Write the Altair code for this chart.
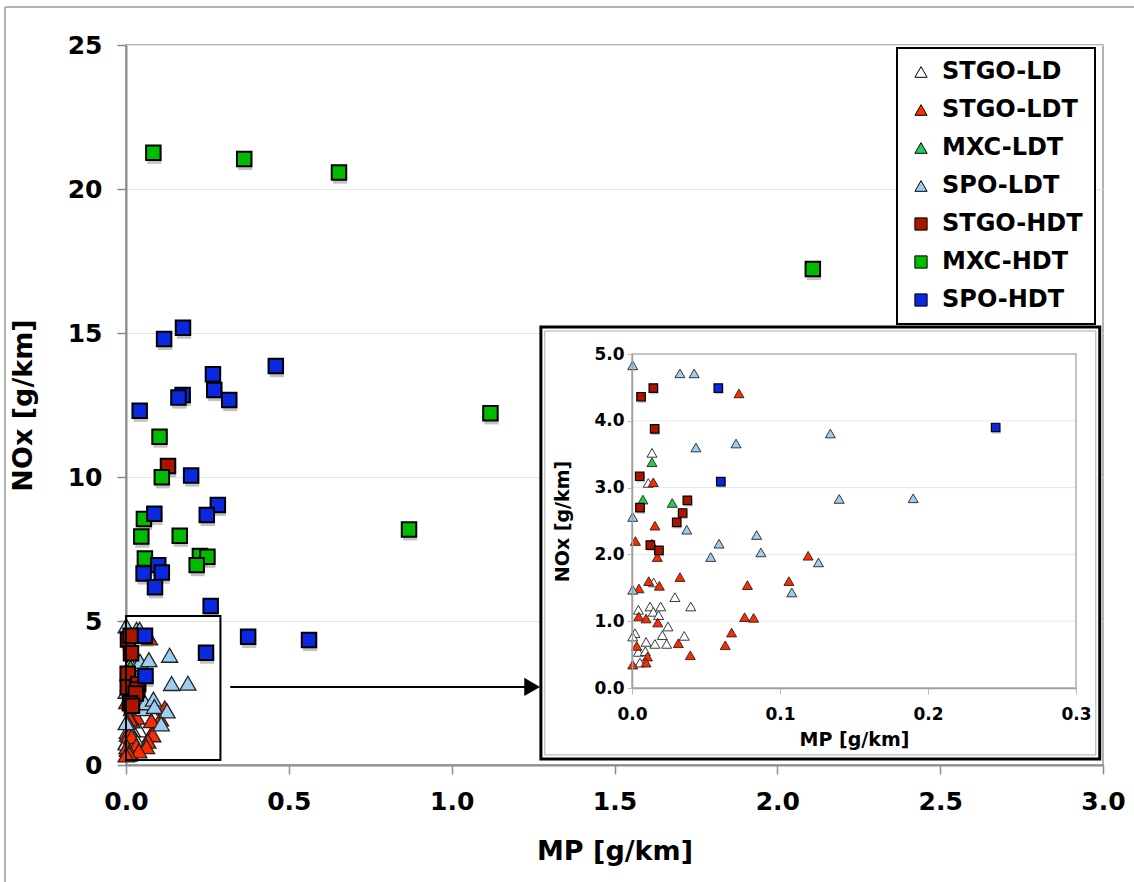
import altair as alt
import pandas as pd

# ---------------- data ----------------
groups = ["STGO-LD", "STGO-LDT", "MXC-LDT", "SPO-LDT", "STGO-HDT", "MXC-HDT", "SPO-HDT"]
fills = ["#ffffff", "#ff2a00", "#22cc55", "#9dcdf0", "#aa1500", "#00bb00", "#0a28e0"]
shapes = ["triangle-up", "triangle-up", "triangle-up", "triangle-up", "square", "square", "square"]

stgo_ld_mp = [0.0135, 0.011, 0.0146, 0.029, 0.0397, 0.0194, 0.0122, 0.0043, 0.0144, 0.018, 0.0243,
              0.002, 0.0005, 0.0353, 0.0205, 0.0095, 0.0155, 0.0234, 0.0043, 0.009, 0.0054]
stgo_ld_nox = [3.52, 3.07, 1.58, 1.36, 1.22, 1.22, 1.22, 1.17, 1.14, 1.09, 0.92,
               0.82, 0.77, 0.78, 0.79, 0.69, 0.66, 0.66, 0.54, 0.55, 0.38]

stgo_ldt_mp = [0.0723, 0.0144, 0.0155, 0.0023, 0.0171, 0.119, 0.106, 0.078, 0.0324, 0.0185, 0.0113,
               0.0047, 0.0045, 0.0095, 0.0174, 0.0761, 0.0822, 0.0673, 0.0032, 0.0313, 0.063,
               0.0104, 0.0394, 0.0095, 0.0005]
stgo_ldt_nox = [4.41, 3.08, 2.43, 2.20, 1.96, 1.98, 1.60, 1.54, 1.66, 1.53, 1.60,
                1.49, 1.07, 1.04, 0.98, 1.06, 1.05, 0.83, 0.63, 0.67, 0.64,
                0.47, 0.49, 0.38, 0.35]

mxc_ldt_mp = [0.0135, 0.0074, 0.0272, 0.0135]
mxc_ldt_nox = [3.38, 2.82, 2.77, 2.16]

spo_ldt_mp = [0.0005, 0.0324, 0.042, 0.134, 0.0432, 0.0703, 0.0005, 0.140, 0.190, 0.037,
              0.0532, 0.0588, 0.0842, 0.0871, 0.126, 0.108, 0.0005]
spo_ldt_nox = [4.83, 4.71, 4.71, 3.81, 3.60, 3.66, 2.56, 2.83, 2.84, 2.37,
               1.96, 2.16, 2.29, 2.03, 1.88, 1.43, 1.47]

stgo_hdt_mp = [0.0061, 0.0144, 0.0153, 0.0052, 0.0054, 0.0374, 0.0342, 0.0302, 0.0124, 0.0182, 0.129]
stgo_hdt_nox = [4.36, 4.49, 3.88, 3.17, 2.70, 2.81, 2.62, 2.48, 2.14, 2.06, 10.38]

mxc_hdt_mp = [0.084, 0.363, 0.654, 2.109, 1.119, 0.869, 0.103, 0.11, 0.055, 0.047, 0.165,
              0.058, 0.227, 0.25, 0.217]
mxc_hdt_nox = [21.26, 21.04, 20.57, 17.22, 12.21, 8.18, 11.40, 9.99, 8.54, 7.93, 7.96,
               7.17, 7.26, 7.23, 6.94]

spo_hdt_mp = [0.117, 0.175, 0.46, 0.267, 0.271, 0.317, 0.174, 0.161, 0.042, 0.2, 0.282, 0.248,
              0.087, 0.099, 0.11, 0.054, 0.089, 0.26, 0.375, 0.562, 0.0583, 0.060, 0.2457]
spo_hdt_nox = [14.79, 15.18, 13.85, 13.57, 13.02, 12.67, 12.85, 12.76, 12.30, 10.05, 9.03, 8.68,
               8.72, 6.94, 6.68, 6.65, 6.17, 5.52, 4.45, 4.34, 4.49, 3.09, 3.90]

main_x_ticks = [0.0, 0.5, 1.0, 1.5, 2.0, 2.5, 3.0]
main_y_ticks = [0, 5, 10, 15, 20, 25]
inset_x_ticks = [0.0, 0.1, 0.2, 0.3]
inset_y_ticks = [0.0, 1.0, 2.0, 3.0, 4.0, 5.0]
inset_grid_vals = [1.0, 2.0, 3.0, 4.0]

series = [
    (groups[0], stgo_ld_mp, stgo_ld_nox),
    (groups[1], stgo_ldt_mp, stgo_ldt_nox),
    (groups[2], mxc_ldt_mp, mxc_ldt_nox),
    (groups[3], spo_ldt_mp, spo_ldt_nox),
    (groups[4], stgo_hdt_mp, stgo_hdt_nox),
    (groups[5], mxc_hdt_mp, mxc_hdt_nox),
    (groups[6], spo_hdt_mp, spo_hdt_nox),
]
rows = []
for g, xs, ys in series:
    for a, b in zip(xs, ys):
        rows.append({"group": g, "mp": a, "nox": b})
df = pd.DataFrame(rows)

# inset / zoom geometry (in data units of the main chart)
ZOOM_X = [0.0, 0.29]
ZOOM_Y = [0.17, 5.17]
BOX_X = [1.274, 2.990]
BOX_Y = [0.21, 15.21]
BOX_IN_X = [1.286, 2.978]
BOX_IN_Y = [0.35, 15.07]
ARROW_Y = 2.71
ARROW_X = [0.32, 1.23]
ARROW_HEAD_X = 1.247

FONT = "DejaVu Sans"
one = pd.DataFrame({"k": [0]})

legend = alt.Legend(title=None, orient="none", legendX=771, legendY=3)
color = alt.Color("group:N", scale=alt.Scale(domain=groups, range=fills), legend=legend)
shape = alt.Shape("group:N", scale=alt.Scale(domain=groups, range=shapes), legend=legend)

# ---------------- main chart ----------------
mx_axis = alt.Axis(values=main_x_ticks, format=".1f", grid=False, labelFontSize=25,
                   titleFontSize=27, tickSize=9, labelPadding=15, titlePadding=24,
                   labelFlush=False,
                   domainColor="#8c8c8c", domainWidth=2, tickColor="#8c8c8c", tickWidth=1.5)
my_axis = alt.Axis(values=main_y_ticks, format="d", grid=True, gridColor="#e4e4e4",
                   labelFontSize=25, titleFontSize=27, tickSize=9, labelPadding=15,
                   labelFlush=False,
                   titlePadding=30, domainColor="#8c8c8c", domainWidth=2,
                   tickColor="#8c8c8c", tickWidth=1.5)
mx = alt.X("mp:Q", scale=alt.Scale(domain=[0, 3], nice=False, zero=False), axis=mx_axis,
           title="MP [g/km]")
my = alt.Y("nox:Q", scale=alt.Scale(domain=[0, 25], nice=False, zero=False), axis=my_axis,
           title="NOx [g/km]")

base = alt.Chart(df)

# figure frame: top and left edges only
frame_top = alt.Chart(one).mark_rule(color="#9a9a9a", strokeWidth=1.5).encode(
    x=alt.value(-121), x2=alt.value(1010), y=alt.value(-38))
frame_left = alt.Chart(one).mark_rule(color="#9a9a9a", strokeWidth=1.5).encode(
    x=alt.value(-121), y=alt.value(-38), y2=alt.value(840))

shadow = base.transform_filter(alt.FieldOneOfPredicate(field="group", oneOf=groups[4:])).mark_point(
    shape="square", filled=True, color="#9a9a9a", opacity=0.6, size=200, xOffset=1, yOffset=4
).encode(x=mx, y=my)

tri = base.transform_filter(alt.FieldOneOfPredicate(field="group", oneOf=groups[:4])).mark_point(
    filled=True, opacity=1, size=260, stroke="#222222", strokeWidth=1.3
).encode(x=mx, y=my, color=color, shape=shape)

sq = base.transform_filter(alt.FieldOneOfPredicate(field="group", oneOf=groups[4:])).mark_point(
    filled=True, opacity=1, size=210, stroke="black", strokeWidth=2
).encode(x=mx, y=my, color=color, shape=shape)

zoom_rect = alt.Chart(one).mark_rect(fillOpacity=0, stroke="black", strokeWidth=2).encode(
    x=alt.datum(ZOOM_X[0]), x2=alt.datum(ZOOM_X[1]), y=alt.datum(ZOOM_Y[0]), y2=alt.datum(ZOOM_Y[1]))

arrow_line = alt.Chart(one).mark_rule(color="black", strokeWidth=2).encode(
    x=alt.datum(ARROW_X[0]), x2=alt.datum(ARROW_X[1]), y=alt.datum(ARROW_Y))
arrow_head = alt.Chart(one).mark_point(shape="triangle-right", filled=True, color="black",
                                       opacity=1, size=330).encode(
    x=alt.datum(ARROW_HEAD_X), y=alt.datum(ARROW_Y))

box = alt.Chart(one).mark_rect(fill="white", stroke="black", strokeWidth=3).encode(
    x=alt.datum(BOX_X[0]), x2=alt.datum(BOX_X[1]), y=alt.datum(BOX_Y[0]), y2=alt.datum(BOX_Y[1]))
box_in = alt.Chart(one).mark_rect(fillOpacity=0, stroke="#aaaaaa", strokeWidth=1).encode(
    x=alt.datum(BOX_IN_X[0]), x2=alt.datum(BOX_IN_X[1]), y=alt.datum(BOX_IN_Y[0]),
    y2=alt.datum(BOX_IN_Y[1]))

main = alt.layer(frame_top, frame_left, shadow, tri, sq, zoom_rect, arrow_line, arrow_head,
                 box, box_in)

# ---------------- inset ----------------
ix_axis = alt.Axis(values=inset_x_ticks, format=".1f", grid=False, orient="bottom", offset=-77,
                   labelFontSize=17, titleFontSize=19, tickSize=6, labelPadding=12,
                   titlePadding=8, domainColor="#a0a0a0", domainWidth=1.5, labelFlush=False,
                   tickColor="#bbbbbb", zindex=1)
iy_axis = alt.Axis(values=inset_y_ticks, format=".1f", grid=False, orient="left", offset=-506,
                   labelFontSize=17, titleFontSize=19, tickSize=5, labelPadding=3,
                   titlePadding=21, domainColor="#a0a0a0", domainWidth=1.5, labelFlush=False,
                   tickColor="#bbbbbb", zindex=1)
ix = alt.X("mp:Q", scale=alt.Scale(domain=[0, 0.3], range=[506, 950], nice=False, zero=False),
           axis=ix_axis, title="MP [g/km]")
iy = alt.Y("nox:Q", scale=alt.Scale(domain=[0, 5], range=[643, 309], nice=False, zero=False),
           axis=iy_axis, title="NOx [g/km]")

ibase = base.transform_filter((alt.datum.mp <= 0.3) & (alt.datum.nox <= 5))

igrid = alt.Chart(pd.DataFrame({"nox": inset_grid_vals})).mark_rule(
    color="#e8e8e8", strokeWidth=1).encode(y=iy, x=alt.datum(inset_x_ticks[0]),
                                          x2=alt.datum(inset_x_ticks[-1]))
iframe = alt.Chart(one).mark_rect(fillOpacity=0, stroke="#b0b0b0", strokeWidth=1.5).encode(
    x=alt.datum(inset_x_ticks[0]), x2=alt.datum(inset_x_ticks[-1]),
    y=alt.datum(inset_y_ticks[0]), y2=alt.datum(inset_y_ticks[-1]))

ishadow = ibase.transform_filter(alt.FieldOneOfPredicate(field="group", oneOf=groups[4:])).mark_point(
    shape="square", filled=True, color="#9a9a9a", opacity=0.5, size=70, xOffset=1, yOffset=2
).encode(x=ix, y=iy)
itri = ibase.transform_filter(alt.FieldOneOfPredicate(field="group", oneOf=groups[:4])).mark_point(
    filled=True, opacity=1, size=100, stroke="#222222", strokeWidth=0.9
).encode(x=ix, y=iy, color=color, shape=shape)
isq = ibase.transform_filter(alt.FieldOneOfPredicate(field="group", oneOf=groups[4:])).mark_point(
    filled=True, opacity=1, size=72, stroke="black", strokeWidth=1.2
).encode(x=ix, y=iy, color=color, shape=shape)

inset = alt.layer(igrid, iframe, ishadow, itri, isq)

chart = alt.layer(main, inset).resolve_scale(x="independent", y="independent").properties(
    width=977, height=720,
    padding={"left": 126, "top": 45, "right": 31, "bottom": 117},
    autosize=alt.AutoSizeParams(type="none"),
    background="white",
).configure_view(stroke="#9a9a9a", strokeWidth=1.5).configure_axis(
    labelFont=FONT, titleFont=FONT, labelFontWeight="bold", titleFontWeight="bold",
    labelColor="black", titleColor="black", labelOverlap=False,
).configure_legend(
    labelFont=FONT, labelFontSize=24, labelFontWeight="bold", labelColor="black",
    symbolSize=150, symbolStrokeColor="black", symbolStrokeWidth=1,
    strokeColor="black", strokeWidth=2, fillColor="white", padding=12,
    rowPadding=14, labelOffset=9,
)

chart.save("out.html", embed_options={"renderer": "svg", "actions": False})
